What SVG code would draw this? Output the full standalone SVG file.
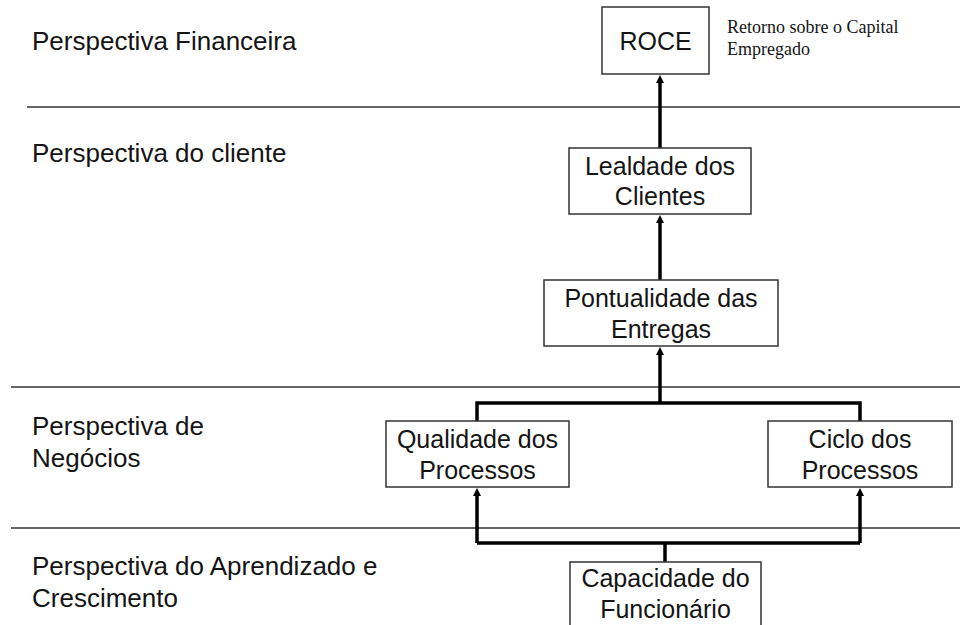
<svg xmlns="http://www.w3.org/2000/svg" width="960" height="625" viewBox="0 0 960 625">
<style>
.bg{fill:#ffffff}
.sep{stroke:#333333;stroke-width:1.6;fill:none}
.box{fill:#ffffff;stroke:#333333;stroke-width:1.5}
.lbl{font-family:"Liberation Sans",Arial,sans-serif;font-size:26px;fill:#141414}
.txt{font-family:"Liberation Sans",Arial,sans-serif;font-size:25px;fill:#141414;text-anchor:middle}
.note{font-family:"Liberation Serif","Times New Roman",serif;font-size:18px;fill:#141414}
.con{stroke:#000000;stroke-width:3.5;fill:none}
</style>
<defs>
<marker id="ah" viewBox="0 0 10 10" refX="0" refY="5" markerWidth="9" markerHeight="8" markerUnits="userSpaceOnUse" orient="auto">
<path d="M0,0 L10,5 L0,10 z" fill="#000000"/>
</marker>
</defs>
<rect class="bg" x="0" y="0" width="960" height="625"/>
<g id="separators">
<line class="sep" x1="27" y1="107" x2="960" y2="107"/>
<line class="sep" x1="11" y1="387" x2="960" y2="387"/>
<line class="sep" x1="11" y1="528" x2="960" y2="528"/>
</g>
<g id="labels">
<text class="lbl" x="32" y="50">Perspectiva Financeira</text>
<text class="lbl" x="32" y="162">Perspectiva do cliente</text>
<text class="lbl" x="32" y="435">Perspectiva de</text>
<text class="lbl" x="32" y="467">Negócios</text>
<text class="lbl" x="32" y="575">Perspectiva do Aprendizado e</text>
<text class="lbl" x="32" y="607">Crescimento</text>
</g>
<g id="connectors">
<path class="con" d="M660,148 L660,83" marker-end="url(#ah)"/>
<path class="con" d="M660,280 L660,223" marker-end="url(#ah)"/>
<path class="con" d="M660,403 L660,355" marker-end="url(#ah)"/>
<path class="con" d="M477,421 L477,403 L860,403 L860,421"/>
<path class="con" d="M665,562 L665,543"/>
<path class="con" d="M477,543 L860,543"/>
<path class="con" d="M477,543 L477,496" marker-end="url(#ah)"/>
<path class="con" d="M860,543 L860,496" marker-end="url(#ah)"/>
</g>
<g id="roce">
<rect class="box" x="602" y="7" width="107" height="67"/>
<text class="txt" x="655.5" y="50">ROCE</text>
</g>
<g id="roce-note">
<text class="note" x="727" y="33">Retorno sobre o Capital</text>
<text class="note" x="727" y="55">Empregado</text>
</g>
<g id="lealdade">
<rect class="box" x="569" y="148" width="182" height="66"/>
<text class="txt" x="660" y="175">Lealdade dos</text>
<text class="txt" x="660" y="205">Clientes</text>
</g>
<g id="pontualidade">
<rect class="box" x="544" y="280" width="234" height="66"/>
<text class="txt" x="661" y="307">Pontualidade das</text>
<text class="txt" x="661" y="338">Entregas</text>
</g>
<g id="qualidade">
<rect class="box" x="386" y="421" width="183" height="66"/>
<text class="txt" x="477.5" y="448">Qualidade dos</text>
<text class="txt" x="477.5" y="479">Processos</text>
</g>
<g id="ciclo">
<rect class="box" x="768" y="421" width="184" height="66"/>
<text class="txt" x="860" y="448">Ciclo dos</text>
<text class="txt" x="860" y="479">Processos</text>
</g>
<g id="capacidade">
<rect class="box" x="570" y="562" width="191" height="70"/>
<text class="txt" x="665.5" y="587">Capacidade do</text>
<text class="txt" x="665.5" y="618">Funcionário</text>
</g>
</svg>
